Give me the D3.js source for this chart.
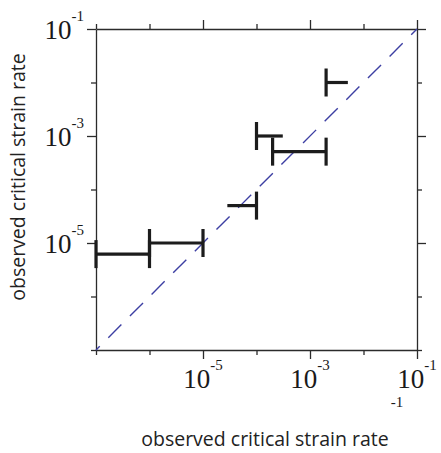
<!DOCTYPE html>
<html><head><meta charset="utf-8">
<script src="https://cdn.jsdelivr.net/npm/d3@7"></script>
<style>html,body{margin:0;padding:0;background:#fff;}</style>
</head><body>
<svg id="c" width="441" height="453"></svg>
<script>
// ---- data ----
const decades = [1e-7, 1e-6, 1e-5, 1e-4, 1e-3, 1e-2, 1e-1];
const labeledDecades = [1e-5, 1e-3, 1e-1];
const tickExponents = ["-5", "-3", "-1"];
const xTitle = "observed critical strain rate";
const yTitle = "observed critical strain rate";
// horizontal interval bars
const xLow  = [1e-7, 1e-6, 2.85e-5, 2e-4, 1e-4, 2e-3];
const xHigh = [1e-6, 1e-5, 1e-4, 2e-3, 3.1e-4, 5.1e-3];
const yVal  = [6.2e-6, 1e-5, 5e-5, 5.1e-4, 1e-3, 1e-2];
const capLow  = [true, true, false, true, true, true];
const capHigh = [true, true, true, true, false, false];
const diagonal = [1e-7, 1e-1];

// ---- chart ----
const svg = d3.select("#c");
const x = d3.scaleLog().domain([1e-7, 1e-1]).range([96, 417]);
const y = d3.scaleLog().domain([1e-7, 1e-1]).range([350, 29]);
const axisColor = "#2b2b2b";
const isMajor = d => labeledDecades.some(v => Math.abs(Math.log10(v) - Math.log10(d)) < 1e-6);

function drawAxis(axis, tx, ty, attr, sign) {
  const g = svg.append("g").attr("transform", `translate(${tx},${ty})`)
    .call(axis.tickValues(decades).tickFormat("").tickSizeOuter(0).tickSizeInner(5));
  g.select(".domain").attr("stroke", axisColor).attr("stroke-width", 1.3);
  g.selectAll(".tick line").attr("stroke", axisColor).attr("stroke-width", 1.3)
    .filter(d => isMajor(d)).attr(attr, sign * 9);
  g.selectAll(".tick text").remove();
}
drawAxis(d3.axisBottom(x), 0, 350, "y2", 1);
drawAxis(d3.axisTop(x), 0, 29, "y2", -1);
drawAxis(d3.axisLeft(y), 96, 0, "x2", -1);
drawAxis(d3.axisRight(y), 417, 0, "x2", 1);

// diagonal dashed 1:1 line
svg.append("path")
  .datum(diagonal)
  .attr("d", d3.line().x(d => x(d)).y(d => y(d)))
  .attr("fill", "none").attr("stroke", "#3d3fa3").attr("stroke-width", 1.4)
  .attr("stroke-dasharray", "18.5,12.1").attr("stroke-dashoffset", 13.2);

// bars
const barColor = "#1c1c1c";
const bars = svg.append("g").attr("stroke", barColor).attr("stroke-width", 3.2).attr("fill", "none");
yVal.forEach((v, i) => {
  const yy = y(v), x0 = x(xLow[i]), x1 = x(xHigh[i]);
  bars.append("line").attr("x1", x0).attr("x2", x1).attr("y1", yy).attr("y2", yy);
  if (capLow[i]) bars.append("line").attr("x1", x0).attr("x2", x0).attr("y1", yy - 14).attr("y2", yy + 14);
  if (capHigh[i]) bars.append("line").attr("x1", x1).attr("x2", x1).attr("y1", yy - 14).attr("y2", yy + 14);
});

// tick labels
const serif = "'Liberation Serif', 'Times New Roman', serif";
function powLabel(sel) {
  sel.append("tspan").text("10");
  sel.append("tspan").attr("font-size", 15).attr("dy", -18).text((d, i) => tickExponents[i]);
}
svg.append("g").selectAll("text").data(labeledDecades).join("text")
  .attr("x", d => x(d)).attr("y", 388)
  .attr("text-anchor", "middle").attr("font-family", serif).attr("font-size", 27).attr("fill", "#1a1a1a")
  .call(powLabel);
svg.append("g").selectAll("text").data(labeledDecades).join("text")
  .attr("x", 84).attr("y", d => y(d) + 9.5)
  .attr("text-anchor", "end").attr("font-family", serif).attr("font-size", 27).attr("fill", "#1a1a1a")
  .call(powLabel);
// stray exponent under the last x label
svg.append("text").attr("x", x(1e-1) - 20).attr("y", 407)
  .attr("text-anchor", "middle").attr("font-family", serif).attr("font-size", 15).attr("fill", "#1a1a1a")
  .text(tickExponents[2]);

// axis titles
const sans = "'Open Sans', 'Noto Sans', sans-serif";
svg.append("text").attr("x", 265).attr("y", 446).attr("text-anchor", "middle")
  .attr("font-family", sans).attr("font-size", 19.5).attr("fill", "#222").text(xTitle);
svg.append("text").attr("transform", "translate(25,177) rotate(-90)").attr("text-anchor", "middle")
  .attr("font-family", sans).attr("font-size", 19.5).attr("fill", "#222").text(yTitle);
</script>
</body></html>
